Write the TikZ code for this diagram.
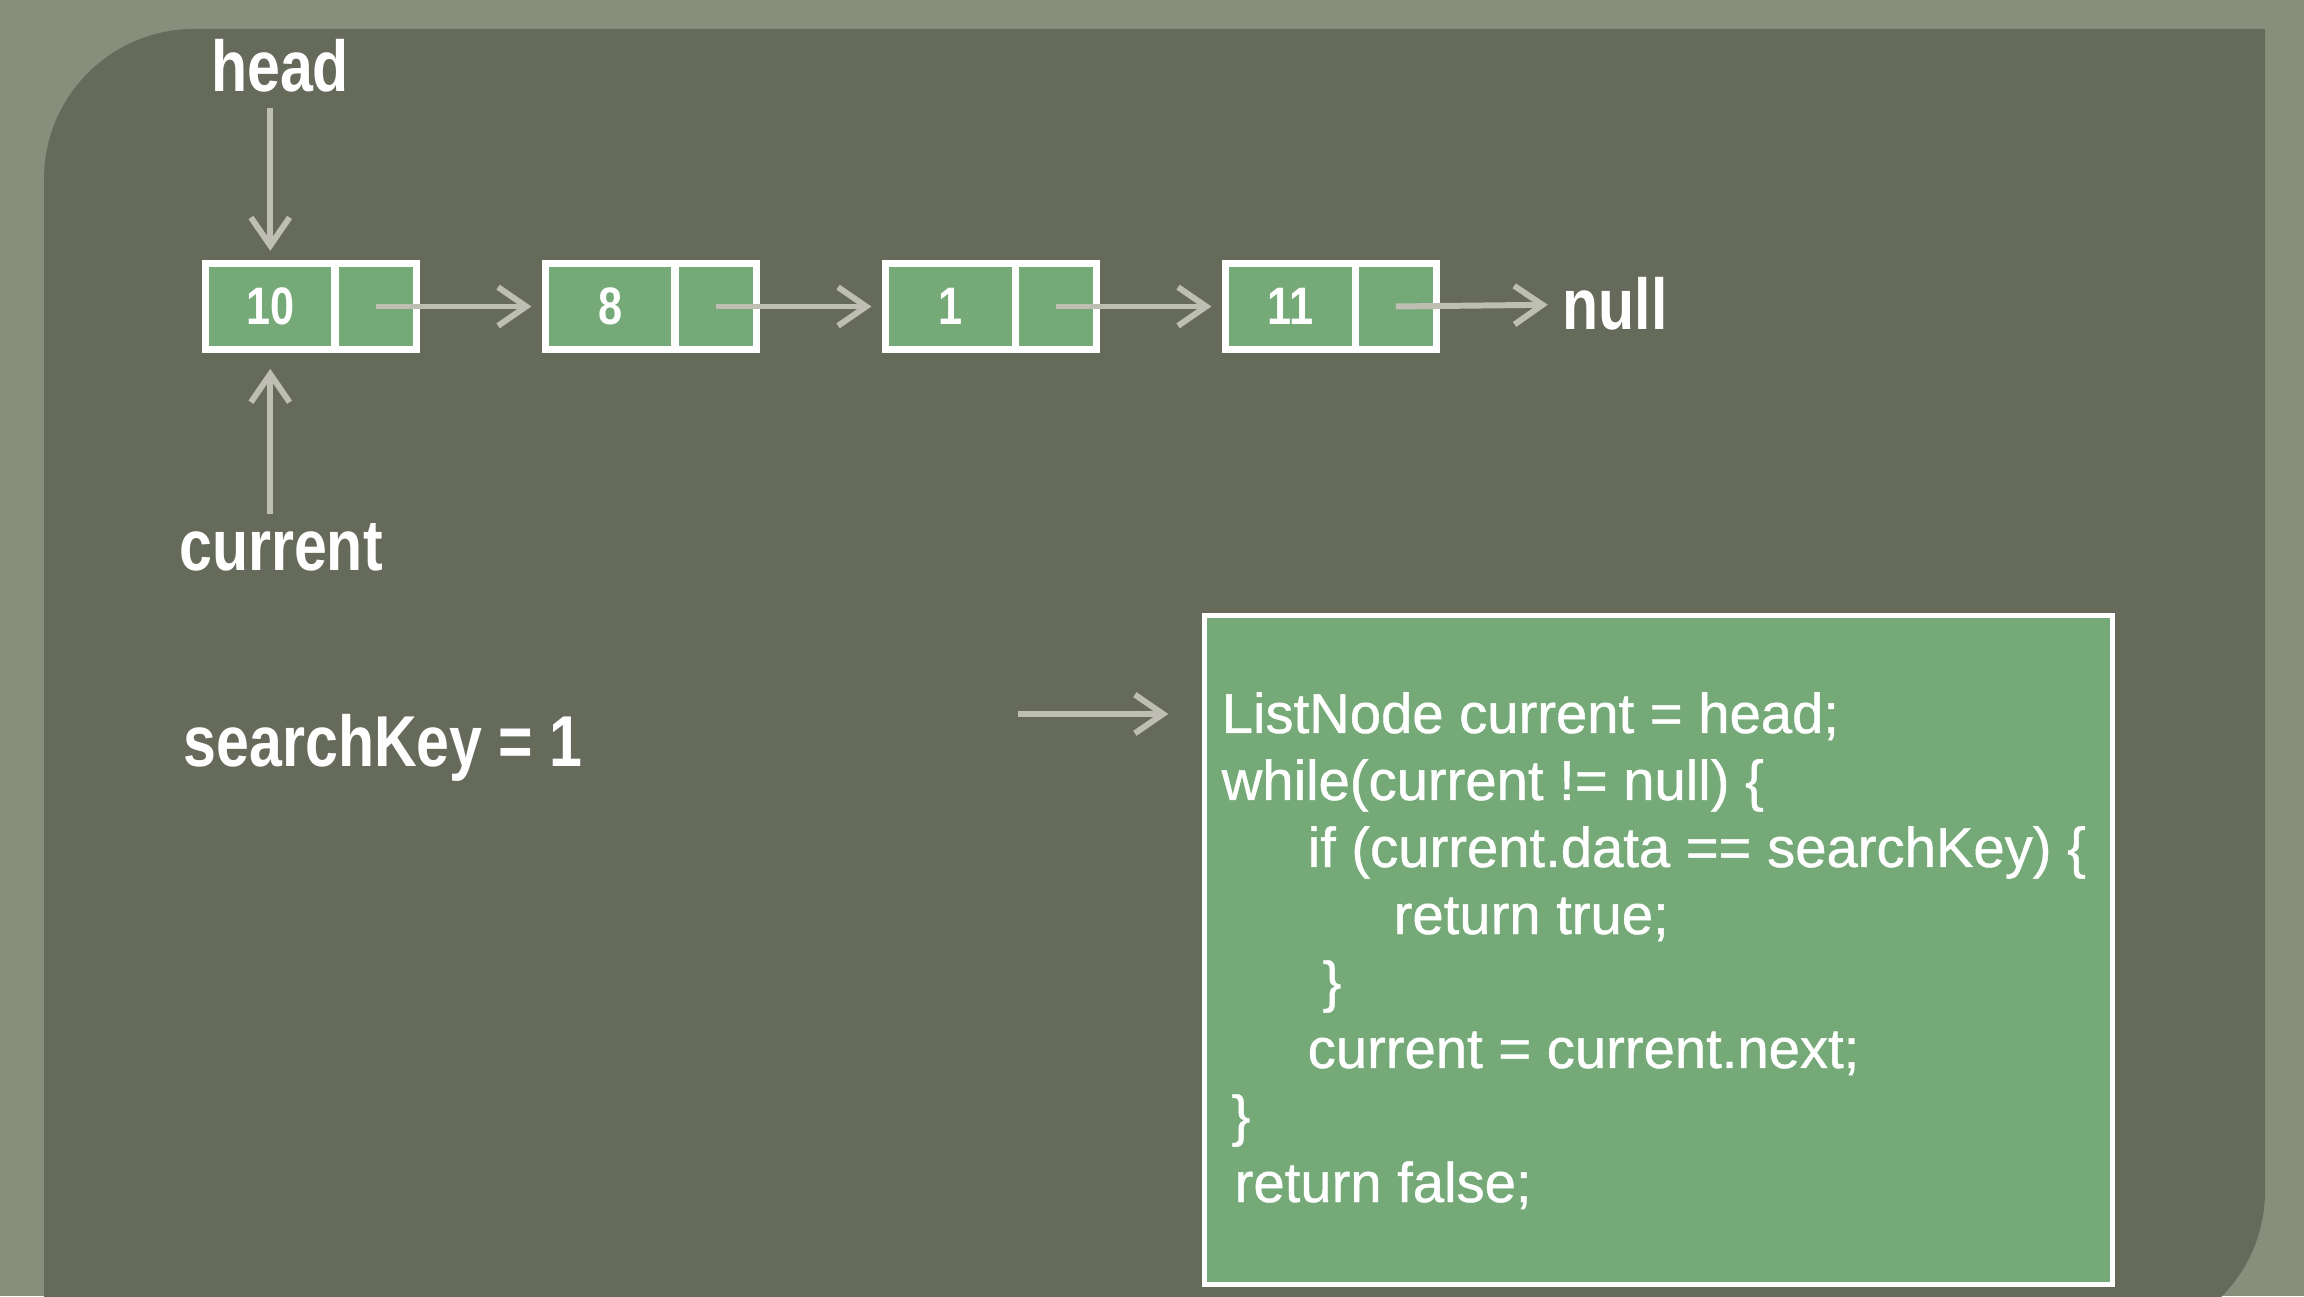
\documentclass[tikz,border=0pt]{standalone}
\usepackage{fontspec}
\setmainfont{Liberation Sans}
\newfontfamily\labelfont[FakeStretch=0.82]{Liberation Sans}
\newfontfamily\codefont[FakeBold=0.8]{Liberation Sans}
\usetikzlibrary{arrows.meta}

\definecolor{outerbg}{RGB}{137,142,124}
\definecolor{panelbg}{RGB}{102,106,90}
\definecolor{cellgreen}{RGB}{117,170,120}
\definecolor{arrowgray}{RGB}{190,190,178}

\tikzset{
  cell/.style={draw=white, line width=2pt, fill=cellgreen, minimum height=0.86cm, inner sep=0pt,
    text=white, font=\labelfont\bfseries\fontsize{15}{17}\selectfont},
  datacell/.style={cell, minimum width=1.295cm},
  ptrcell/.style={cell, minimum width=0.815cm},
  lbl/.style={text=white, inner sep=0pt, font=\labelfont\bfseries\fontsize{20.5}{24}\selectfont},
  codeline/.style={text=white, inner sep=0pt, anchor=base west, font=\codefont\fontsize{16}{19}\selectfont},
  codebox/.style={draw=white, line width=1.6pt, fill=cellgreen, minimum width=9.08cm, minimum height=6.69cm},
  ptr/.style={draw=arrowgray, line width=1.7pt, -{Straight Barb[length=8pt,width=11pt]}},
}

\begin{document}
\begin{tikzpicture}
\useasboundingbox (0,0) rectangle (23.04,12.96);
\clip (0,0) rectangle (23.04,12.96);
\fill[outerbg] (0,0) rectangle (23.04,12.96);
\fill[panelbg] (0.44,-0.45) -- (0.44,11.17) arc[start angle=180, end angle=90, radius=1.5]
  -- (22.65,12.67) -- (22.65,1.05) arc[start angle=0, end angle=-90, radius=1.5] -- cycle;

% the list
\node[datacell] (d1) at (2.7025,9.895) {10};
\node[ptrcell] (p1) at (3.7575,9.895) {};
\node[datacell] (d2) at (6.1025,9.895) {8};
\node[ptrcell] (p2) at (7.1575,9.895) {};
\node[datacell] (d3) at (9.5025,9.895) {1};
\node[ptrcell] (p3) at (10.5575,9.895) {};
\node[datacell] (d4) at (12.9025,9.895) {11};
\node[ptrcell] (p4) at (13.9575,9.895) {};
\node[lbl] (null) at (16.15,9.92) {null};

\path[ptr,shorten >=3pt] (p1.center) -- (d2);
\path[ptr,shorten >=3pt] (p2.center) -- (d3);
\path[ptr,shorten >=3pt] (p3.center) -- (d4);
\path[ptr,shorten >=4pt] (p4.center) -- (null);

% head and current
\node[lbl] (head) at (2.80,12.30) {head};
\node[lbl] (current) at (2.81,7.49) {current};
\path[ptr,shorten <=4.3pt,shorten >=2.6pt] (d1.north |- head.south) -- (d1.north);
\path[ptr,shorten <=2.5pt,shorten >=4.5pt] (d1.south |- current.north) -- (d1.south);

\node[lbl,anchor=west] (key) at (1.83,5.485) {searchKey = 1};

% the code
\node[codebox] (code) at (16.585,3.46) {};
\node[codeline] (l1) at (12.21,5.63) {ListNode current = head;};
\node[codeline] (l2) at (12.21,4.96) {while(current != null) \{};
\node[codeline] (l3) at (13.07,4.29) {if (current.data == searchKey) \{};
\node[codeline] (l4) at (13.93,3.62) {return true;};
\node[codeline] (l5) at (13.22,2.95) {\}};
\node[codeline] (l6) at (13.07,2.28) {current = current.next;};
\node[codeline] (l7) at (12.31,1.61) {\}};
\node[codeline] (l8) at (12.34,0.94) {return false;};

\coordinate (pc) at (10.18,5.82);
\path[ptr,shorten >=15pt] (pc) -- (pc -| l1.west);
\end{tikzpicture}
\end{document}
